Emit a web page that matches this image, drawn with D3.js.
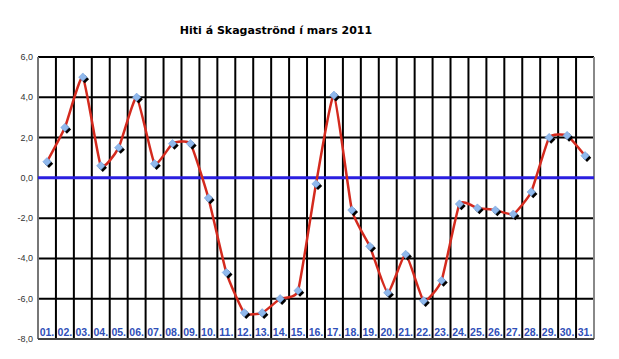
<!DOCTYPE html>
<html><head><meta charset="utf-8">
<script src="https://cdn.jsdelivr.net/npm/d3@7"></script>
<style>body{margin:0;background:#fff}svg{display:block}</style>
</head><body>
<script>
const title = "Hiti á Skagaströnd í mars 2011";
const days = ["01.","02.","03.","04.","05.","06.","07.","08.","09.","10.","11.","12.","13.","14.","15.","16.","17.","18.","19.","20.","21.","22.","23.","24.","25.","26.","27.","28.","29.","30.","31."];
const temps = [0.8,2.5,5.0,0.6,1.5,4.0,0.7,1.7,1.7,-1.0,-4.7,-6.7,-6.7,-6.0,-5.6,-0.3,4.1,-1.6,-3.4,-5.7,-3.8,-6.1,-5.1,-1.3,-1.5,-1.6,-1.8,-0.7,2.0,2.1,1.1];
const yTicks = [6,4,2,0,-2,-4,-6,-8];

const W=619,H=359;
const L=38,R=594,T=57,B=339;
const svg=d3.select("body").append("svg").attr("width",W).attr("height",H);
const x=d3.scaleBand().domain(days).range([L,R]).padding(0);
const y=d3.scaleLinear().domain([-8,6]).range([B,T]);

// horizontal grid
svg.append("g").selectAll("line").data(yTicks.filter(v=>v!==0)).join("line")
  .attr("x1",L).attr("x2",R).attr("y1",d=>y(d)).attr("y2",d=>y(d))
  .attr("stroke","#000").attr("stroke-width",2);
// vertical grid
svg.append("g").selectAll("line").data(days.slice(1)).join("line")
  .attr("x1",d=>x(d)).attr("x2",d=>x(d)).attr("y1",T).attr("y2",B)
  .attr("stroke","#000").attr("stroke-width",2);
// borders
svg.append("line").attr("x1",L).attr("x2",L).attr("y1",T).attr("y2",B).attr("stroke","#777").attr("stroke-width",2);
svg.append("line").attr("x1",R).attr("x2",R).attr("y1",T).attr("y2",B).attr("stroke","#888").attr("stroke-width",2);
svg.append("line").attr("x1",L).attr("x2",R).attr("y1",B).attr("y2",B).attr("stroke","#444").attr("stroke-width",2);
// zero line
svg.append("line").attr("x1",L).attr("x2",R).attr("y1",y(0)).attr("y2",y(0)).attr("stroke","#2a1ee0").attr("stroke-width",3);

// y labels
svg.append("g").selectAll("text").data(yTicks).join("text")
  .attr("x",L-5).attr("y",d=>y(d)+3).attr("text-anchor","end")
  .attr("font-family","Liberation Sans, Arial, sans-serif").attr("font-size",9).attr("fill","#333")
  .text(d=>d.toFixed(1).replace(".",","));

// category labels
svg.append("g").selectAll("text").data(days).join("text")
  .attr("x",d=>x(d)+x.bandwidth()/2).attr("y",B-3).attr("text-anchor","middle")
  .attr("font-family","Liberation Sans, Arial, sans-serif").attr("font-weight","bold").attr("font-size",10.5).attr("fill","#2f4fb8")
  .text(d=>d);

// line
const line=d3.line().x((d,i)=>x(days[i])+x.bandwidth()/2).y(d=>y(d)).curve(d3.curveCardinal.tension(0.55));
svg.append("path").datum(temps).attr("d",line).attr("fill","none").attr("stroke","#d42a1e").attr("stroke-width",2.5);

// markers with shadow
const sym=d3.symbol().type(d3.symbolDiamond2).size(45);
svg.append("g").selectAll("path").data(temps).join("path")
  .attr("transform",(d,i)=>`translate(${x(days[i])+x.bandwidth()/2+2},${y(d)+2})`)
  .attr("d",sym).attr("fill","#000");
svg.append("g").selectAll("path").data(temps).join("path")
  .attr("transform",(d,i)=>`translate(${x(days[i])+x.bandwidth()/2},${y(d)})`)
  .attr("d",sym).attr("fill","#8fb8ec").attr("stroke","#6f9ad8").attr("stroke-width",0.5);

// title
svg.append("text").attr("x",276).attr("y",34).attr("text-anchor","middle")
  .attr("font-family","DejaVu Sans, Verdana, sans-serif").attr("font-weight","bold").attr("font-size",11).attr("fill","#000")
  .text(title);
</script>
</body></html>
